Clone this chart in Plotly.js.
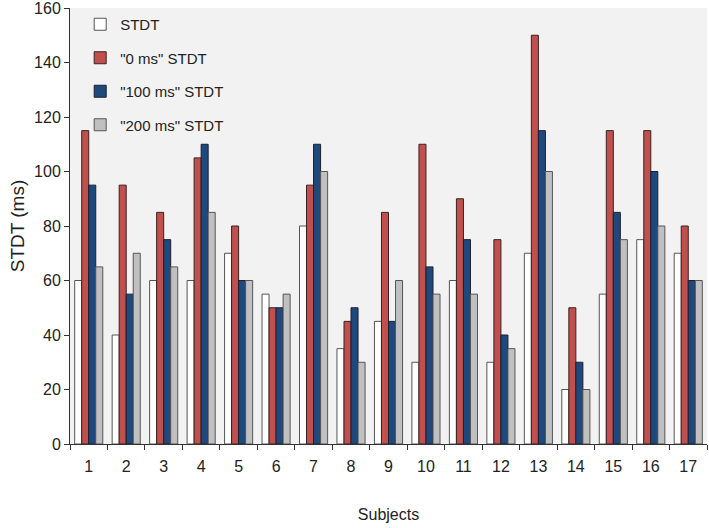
<!DOCTYPE html>
<html><head><meta charset="utf-8">
<script src="https://cdn.plot.ly/plotly-3.0.1.min.js"></script>
<style>html,body{margin:0;padding:0;background:#fff}</style>
</head><body>
<div id="chart" style="width:709px;height:528px"></div>
<script>
const subjects = ["1","2","3","4","5","6","7","8","9","10","11","12","13","14","15","16","17"];
const stdt     = [60,40,60,60,70,55,80,35,45,30,60,30,70,20,55,75,70];
const stdt0    = [115,95,85,105,80,50,95,45,85,110,90,75,150,50,115,115,80];
const stdt100  = [95,55,75,110,60,50,110,50,45,65,75,40,115,30,85,100,60];
const stdt200  = [65,70,65,85,60,55,100,30,60,55,55,35,100,20,75,80,60];
const names = ['STDT', '"0 ms" STDT', '"100 ms" STDT', '"200 ms" STDT'];

const series = [stdt, stdt0, stdt100, stdt200];
const fills = ['#ffffff', '#c0504d', '#1f497d', '#c0c0c0'];
const lines = ['#555555', '#3a2020', '#1a2030', '#555555'];
const data = series.map((s, i) => ({
  type: 'bar', x: subjects, y: s, name: names[i], legendgroup: 'g' + i,
  marker: {color: fills[i], line: {color: lines[i], width: 1}}
}));

const layout = {
  width: 709, height: 528,
  margin: {l: 70, r: 2, t: 8, b: 84},
  paper_bgcolor: '#ffffff', plot_bgcolor: '#f2f2f2',
  font: {family: 'Liberation Sans, Arial, sans-serif', color: '#222', size: 16},
  barmode: 'group', bargap: 0.25, bargroupgap: 0,
  showlegend: true,
  legend: {x: 0.016, y: 1.0, xanchor: 'left', yanchor: 'top', bgcolor: 'rgba(0,0,0,0)',
           font: {size: 15}, tracegroupgap: 11, itemwidth: 30},
  xaxis: {type: 'category', showline: true, linecolor: '#333', linewidth: 1,
          ticks: 'outside', tickson: 'boundaries', ticklen: 5, tickcolor: '#333',
          tickfont: {size: 16}, showgrid: false, ticklabelstandoff: 8,
          title: {text: 'Subjects', font: {size: 16}, standoff: 34}},
  yaxis: {range: [0, 160], dtick: 20, showline: true, linecolor: '#333', linewidth: 1,
          ticks: 'outside', ticklen: 5, tickcolor: '#333', showgrid: false, zeroline: false,
          tickfont: {size: 16}, ticklabeloverflow: 'allow',
          title: {text: 'STDT (ms)', font: {size: 19}, standoff: 4}}
};
Plotly.newPlot('chart', data, layout, {displayModeBar: false});
</script>
</body></html>
